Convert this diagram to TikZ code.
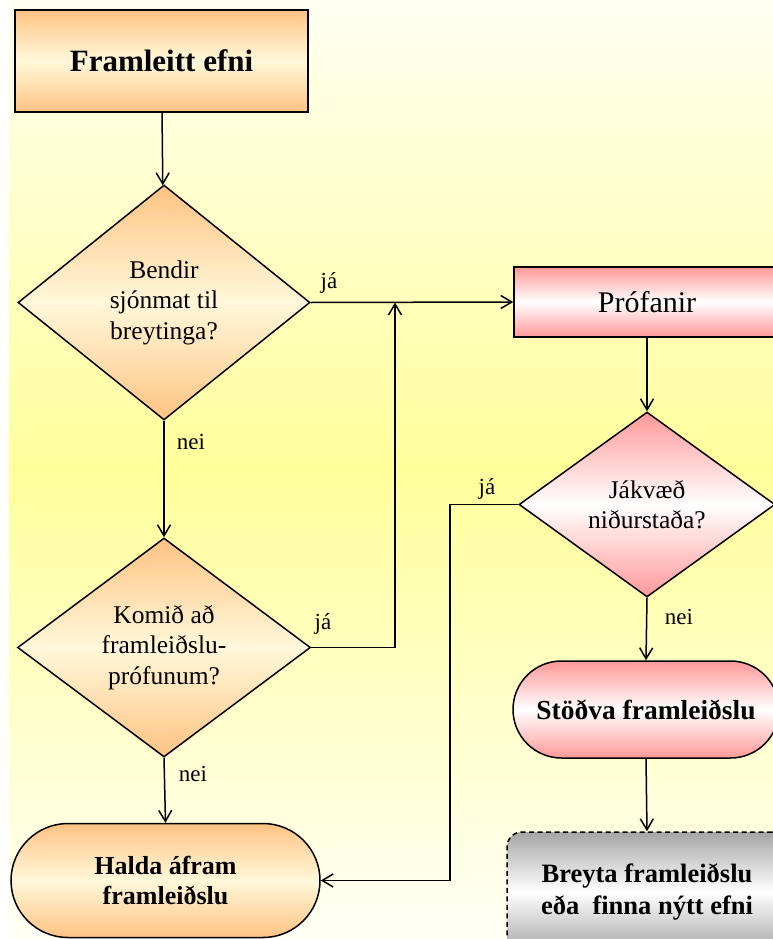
\documentclass[tikz,border=0pt]{standalone}
\usepackage{fontspec}
\setmainfont{Liberation Serif}
\usetikzlibrary{shapes.geometric,shapes.misc,arrows.meta}
\definecolor{bgtop}{HTML}{FFFFF2}
\definecolor{bgmid}{HTML}{FFFF9C}
\definecolor{bgbot}{HTML}{FFFFF6}
\definecolor{orangeedge}{HTML}{FFC383}
\definecolor{orangemid}{HTML}{FFF8DA}
\definecolor{pinkedge}{HTML}{FF9898}
\definecolor{pinkmid}{HTML}{FFFFFF}
\definecolor{grayedge}{HTML}{A6A6A6}
\definecolor{graymid}{HTML}{FFFFFF}
\begin{document}
\begin{tikzpicture}[x=1pt,y=-1pt,
  conn/.style={line width=1.5pt,-{Straight Barb[length=11pt,width=13pt,line width=1.5pt]}},
  orangefill/.style={top color=orangeedge,bottom color=orangeedge,middle color=orangemid},
  pinkfill/.style={top color=pinkedge,bottom color=pinkedge,middle color=pinkmid},
  grayfill/.style={top color=grayedge,bottom color=grayedge,middle color=graymid},
  boxbase/.style={draw=black,line width=1.5pt,inner sep=0pt,align=center},
  decision/.style={boxbase,diamond,font=\fontsize{25.5}{30.5}\selectfont},
  proc/.style={boxbase,rectangle},
  term/.style={boxbase,rounded rectangle,font=\bfseries\fontsize{26}{30}\selectfont},
  lbl/.style={inner sep=0pt,font=\fontsize{23}{26}\selectfont}]
\useasboundingbox (0,0) rectangle (773,939);
\clip (0,0) rectangle (773,939);
\fill[white] (0,0) rectangle (773,939);
\shade[top color=bgtop,bottom color=bgbot,middle color=bgmid] (9,0) rectangle (773,939);

% nodes
\node[proc,orangefill,minimum width=293pt,minimum height=102pt,
      font=\bfseries\fontsize{31}{34}\selectfont] (start) at (161.5,61) {Framleitt efni};
\node[decision,orangefill,minimum width=292pt,minimum height=235pt] (d1) at (164,302.5)
      {Bendir\\sjónmat til\\breytinga?};
\node[decision,orangefill,minimum width=293pt,minimum height=219pt] (d2) at (164,647.5)
      {Komið að\\framleiðslu-\\prófunum?};
\node[term,orangefill,minimum width=309pt,minimum height=114pt] (halda) at (165.5,880.5)
      {Halda áfram\\framleiðslu};
\node[proc,pinkfill,minimum width=266pt,minimum height=70pt,
      font=\fontsize{30}{34}\selectfont] (prof) at (647,302) {Prófanir};
\node[decision,pinkfill,minimum width=256pt,minimum height=185pt] (d3) at (647,504.5)
      {Jákvæð\\niðurstaða?};
\node[term,pinkfill,minimum width=266pt,minimum height=97pt,
      font=\bfseries\fontsize{27.5}{30}\selectfont] (stop) at (646,709.5)
      {Stöðva framleiðslu};
\node[boxbase,rectangle,rounded corners=15pt,dashed,dash pattern=on 5pt off 3.5pt,
      grayfill,minimum width=280pt,minimum height=120pt,
      font=\bfseries\fontsize{26.5}{32}\selectfont] (breyta) at (647,892)
      {Breyta framleiðslu\\eða~ finna nýtt efni};

% connectors
\coordinate (j1) at (395,302.5);
\coordinate (c2) at (450,504.5);
\draw[conn] (start) -- (d1);
\draw[conn] (d1.east) -- (prof.west);
\draw[conn] (d1.south) -- (d2.north);
\draw[conn] (d2.east) -| (j1);
\draw[conn] (d2.south) -- (halda.north);
\draw[conn] (prof.south) -- (d3.north);
\draw[conn] (d3.west) -- (c2) |- (halda.east);
\draw[conn] (d3.south) -- (stop.north);
\draw[conn] (stop.south) -- (breyta.north);

% labels
\node[lbl] (l1) at (329,283) {já};
\node[lbl] (l2) at (191,442) {nei};
\node[lbl] (l3) at (323,624) {já};
\node[lbl] (l4) at (193,774) {nei};
\node[lbl] (l5) at (487,489) {já};
\node[lbl] (l6) at (679,617) {nei};
\end{tikzpicture}
\end{document}
